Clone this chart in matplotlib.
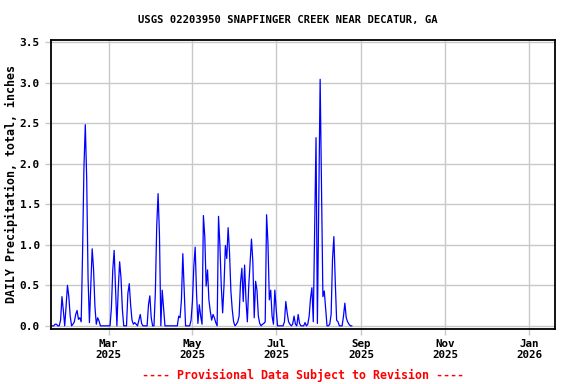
import numpy as np
import pandas as pd
import matplotlib
matplotlib.use('Agg')
import matplotlib.pyplot as plt
import matplotlib.dates as mdates

# Daily precipitation, inches, starting 2025-01-18
start_date = '2025-01-18'
jan = [0, 0, 0, 0.02, 0.02, 0, 0, 0.07, 0.36, 0.19, 0, 0.24, 0.5, 0.36]
feb = [0.12, 0, 0.02, 0.05, 0.14, 0.19, 0.08, 0.1, 0.05, 0.9, 1.95, 2.48, 1.82, 0.59,
       0.04, 0.5, 0.95, 0.7, 0.24, 0.02, 0.1, 0.06, 0, 0, 0, 0, 0, 0]
mar = [0, 0, 0.22, 0.69, 0.93, 0.46, 0, 0.46, 0.79, 0.59, 0.2, 0, 0, 0, 0.4, 0.52,
       0.26, 0.07, 0.02, 0.04, 0.02, 0, 0.07, 0.14, 0.03, 0, 0, 0, 0, 0.26, 0.37]
apr = [0.1, 0, 0, 0.41, 1.23, 1.63, 1.12, 0, 0.44, 0.22, 0, 0, 0, 0, 0, 0, 0, 0, 0, 0,
       0.12, 0.1, 0.32, 0.89, 0.44, 0, 0, 0, 0, 0.07]
may = [0.3, 0.73, 0.97, 0.4, 0.03, 0.26, 0.12, 0.02, 1.36, 1.1, 0.49, 0.69, 0.32, 0.18,
       0.07, 0.14, 0.1, 0.04, 0, 1.35, 1.0, 0.49, 0.16, 0.5, 0.99, 0.83, 1.21, 0.91,
       0.43, 0.2, 0.05]
jun = [0, 0.02, 0.05, 0.12, 0.53, 0.71, 0.3, 0.75, 0.32, 0.05, 0.49, 0.77, 1.07, 0.79,
       0.1, 0.55, 0.44, 0.12, 0.03, 0, 0.02, 0.03, 0.05, 1.37, 1.02, 0.32, 0.44, 0.12,
       0.02, 0.44]
jul = [0.2, 0, 0, 0, 0, 0, 0.05, 0.3, 0.16, 0.05, 0.02, 0, 0.02, 0.12, 0.02, 0, 0.14,
       0.03, 0, 0, 0, 0.04, 0, 0.02, 0.12, 0.34, 0.47, 0.05, 1.15, 2.32, 0.03]
aug = [1.54, 3.04, 1.69, 0.36, 0.43, 0.22, 0, 0, 0.02, 0.14, 0.82, 1.1, 0.55, 0.07,
       0.05, 0, 0, 0, 0.12, 0.28, 0.1, 0.05, 0.02, 0, 0]

tick_dates = ['2025-03-01', '2025-05-01', '2025-07-01', '2025-09-01', '2025-11-01', '2026-01-01']
tick_labels = ['Mar\n2025', 'May\n2025', 'Jul\n2025', 'Sep\n2025', 'Nov\n2025', 'Jan\n2026']
y_ticks = [0.0, 0.5, 1.0, 1.5, 2.0, 2.5, 3.0, 3.5]

precip = jan + feb + mar + apr + may + jun + jul + aug
dates = pd.date_range(start_date, periods=len(precip), freq='D')

mono = 'DejaVu Sans Mono'

fig = plt.figure(figsize=(5.76, 3.84), dpi=100)
ax = fig.add_axes([0.0885, 0.143, 0.875, 0.754])

ax.plot(dates, precip, color='#0000ff', linewidth=0.9)

ax.set_xlim(pd.Timestamp('2025-01-18'), pd.Timestamp('2026-01-20'))
ax.set_ylim(-0.04, 3.53)

ax.set_xticks(pd.to_datetime(tick_dates))
ax.set_xticklabels(tick_labels, fontfamily=mono, fontweight='bold', fontsize=7.8)
ax.set_yticks(y_ticks)
ax.set_yticklabels(['%.1f' % v for v in y_ticks], fontfamily=mono, fontweight='bold', fontsize=8)

ax.grid(True, color='#c8c8c8', linewidth=1.0)
ax.set_axisbelow(True)
# grey tick stubs that continue the grid lines outside the frame
ax.tick_params(axis='both', length=4, width=1.0, color='#c8c8c8', pad=3)
ax.tick_params(axis='y', pad=4)
for s in ax.spines.values():
    s.set_linewidth(1.3)
    s.set_color('black')

ax.set_ylabel('DAILY Precipitation, total, inches', fontfamily=mono, fontweight='bold',
              fontsize=8.4)
ax.yaxis.set_label_coords(-0.079, 0.5)
ax.yaxis.label.set_va('center')
fig.text(0.5, 0.948, 'USGS 02203950 SNAPFINGER CREEK NEAR DECATUR, GA', ha='center', va='center',
         fontfamily=mono, fontweight='bold', fontsize=7.6)
fig.text(0.526, 0.022, '---- Provisional Data Subject to Revision ----', ha='center', va='center',
         fontfamily=mono, fontweight='bold', fontsize=8.4, color='#ff0000')

fig.savefig('out.png', dpi=100)
